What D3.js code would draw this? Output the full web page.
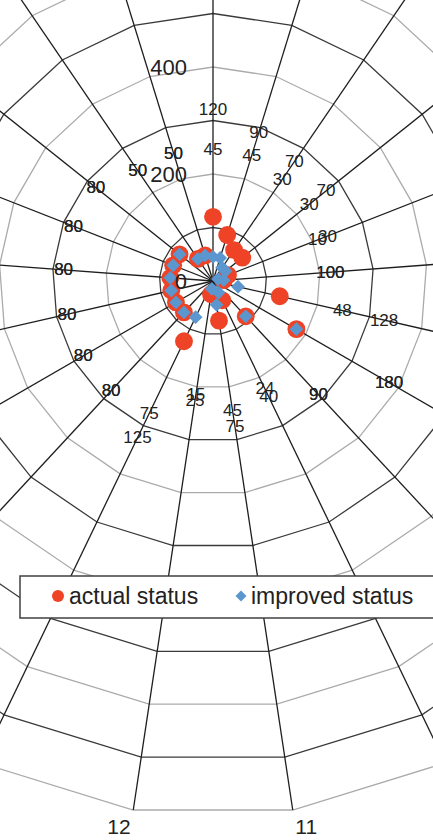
<!DOCTYPE html>
<html>
<head>
<meta charset="utf-8">
<script src="https://cdn.jsdelivr.net/npm/d3@7"></script>
<style>
  body { margin: 0; background: #fff; }
  svg { display: block; font-family: "Liberation Sans", Arial, sans-serif; }
</style>
</head>
<body>
<div id="chart"></div>
<script>
var categories = ["1", "2", "3", "4", "5", "6", "7", "8", "9", "10", "11",
  "12", "13", "14", "15", "16", "17", "18", "19", "20", "21"];
var actual = [120, 90, 70, 70, 30, 20, 128, 180, 90, 40, 75, 25, 125, 80, 80, 80, 80, 80, 80, 50, 50];
var improved = [45, 45, 30, 30, 10, 20, 48, 180, 90, 24, 45, 15, 75, 80, 80, 80, 80, 80, 80, 50, 50];
var actualLabels = ["120", "90", "70", "70", "30", "100", "128", "180", "90", "40", "75",
  "25", "125", "80", "80", "80", "80", "80", "80", "50", "50"];
var improvedLabels = ["45", "45", "30", "30", "10", "100", "48", "180", "90", "24", "45",
  "15", "75", "80", "80", "80", "80", "80", "80", "50", "50"];
var ringValues = [100, 200, 300, 400, 500, 600, 700, 800, 900, 1000];
var axisTicks = [0, 200, 400, 600, 800, 1000];
var seriesNames = ["actual status", "improved status"];

var width = 433, height = 840;
var cx = 213, cy = 281;
var labelOffset = 200;

var svg = d3.select("#chart").append("svg")
  .attr("width", width)
  .attr("height", height);

var r = d3.scaleLinear().domain([0, 1000]).range([0, 535]);
var angle = d3.scaleBand().domain(categories).range([0, 2 * Math.PI]).paddingInner(0).align(0);

function px(c, v) { return cx + r(v) * Math.sin(angle(c)); }
function py(c, v) { return cy - r(v) * Math.cos(angle(c)); }

var g = svg.append("g");

// rings
var ring = d3.lineRadial()
  .angle(function(c) { return angle(c); })
  .curve(d3.curveLinearClosed);

g.selectAll(".ring")
  .data(ringValues)
  .enter().append("path")
  .attr("class", "ring")
  .attr("transform", "translate(" + cx + "," + cy + ")")
  .attr("d", function(v) { return ring.radius(r(v))(categories); })
  .attr("fill", "none")
  .attr("stroke", function(v) { return (v / 100) % 2 ? "#3a3a3a" : "#ababab"; })
  .attr("stroke-width", 1.3);

// spokes
g.selectAll(".spoke")
  .data(categories)
  .enter().append("line")
  .attr("x1", cx).attr("y1", cy)
  .attr("x2", function(c) { return px(c, 1000); })
  .attr("y2", function(c) { return py(c, 1000); })
  .attr("stroke", "#1e1e1e")
  .attr("stroke-width", 1.3);

// category labels (only the ones that fall inside the picture)
var catPos = categories.map(function(c) {
  var a = angle(c), rr = r(1000) + 17;
  return { c: c, x: cx + rr * Math.sin(a), y: cy - rr * Math.cos(a), s: Math.sin(a) };
}).filter(function(d) { return d.x > 20 && d.x < width - 20 && d.y > 10 && d.y < height - 5; });

g.selectAll(".cat")
  .data(catPos)
  .enter().append("text")
  .attr("x", function(d) { return d.x; })
  .attr("y", function(d) { return d.y; })
  .attr("text-anchor", function(d) {
    return d.s > 0.1 ? "start" : (d.s < -0.1 ? "end" : "middle");
  })
  .attr("dominant-baseline", "central")
  .attr("font-size", 21)
  .attr("fill", "#222")
  .text(function(d) { return d.c; });

// series markers
var actualPts = categories.map(function(c, i) { return { c: c, v: actual[i], t: actualLabels[i] }; });
var improvedPts = categories.map(function(c, i) { return { c: c, v: improved[i], t: improvedLabels[i] }; });

g.selectAll(".actual")
  .data(actualPts)
  .enter().append("path")
  .attr("transform", function(d) { return "translate(" + px(d.c, d.v) + "," + py(d.c, d.v) + ")"; })
  .attr("d", d3.symbol(d3.symbolCircle, 250))
  .attr("fill", "#ee4326");

g.selectAll(".improved")
  .data(improvedPts)
  .enter().append("path")
  .attr("transform", function(d) { return "translate(" + px(d.c, d.v) + "," + py(d.c, d.v) + ") rotate(45)"; })
  .attr("d", d3.symbol(d3.symbolSquare, 95))
  .attr("fill", "#5b97ce");

// data labels
[actualPts, improvedPts].forEach(function(pts) {
  g.append("g").selectAll("text")
    .data(pts)
    .enter().append("text")
    .attr("x", function(d) { return px(d.c, d.v + labelOffset); })
    .attr("y", function(d) { return py(d.c, d.v + labelOffset); })
    .attr("text-anchor", "middle")
    .attr("dominant-baseline", "central")
    .attr("font-size", 17)
    .attr("fill", "#222")
    .text(function(d) { return d.t; });
});

// value axis labels (visible ones)
g.selectAll(".tick")
  .data(axisTicks.filter(function(v) { return cy - r(v) > 10; }))
  .enter().append("text")
  .attr("x", cx - 26)
  .attr("y", function(v) { return cy - r(v); })
  .attr("text-anchor", "end")
  .attr("dominant-baseline", "central")
  .attr("font-size", 22)
  .attr("fill", "#222")
  .text(function(v) { return v; });

// legend
var legend = svg.append("g");
legend.append("rect")
  .attr("x", 20).attr("y", 576)
  .attr("width", 430).attr("height", 42)
  .attr("fill", "#fff")
  .attr("stroke", "#404040")
  .attr("stroke-width", 1.5);

legend.append("circle")
  .attr("cx", 58).attr("cy", 596).attr("r", 6)
  .attr("fill", "#ee4326");
legend.append("path")
  .attr("transform", "translate(241,596) rotate(45)")
  .attr("d", d3.symbol(d3.symbolSquare, 60))
  .attr("fill", "#5b97ce");

legend.selectAll(".lt")
  .data(seriesNames)
  .enter().append("text")
  .attr("x", function(d, i) { return i ? 251 : 69; })
  .attr("y", 596)
  .attr("dominant-baseline", "central")
  .attr("font-size", 23)
  .attr("fill", "#222")
  .text(function(d) { return d; });
</script>
</body>
</html>
